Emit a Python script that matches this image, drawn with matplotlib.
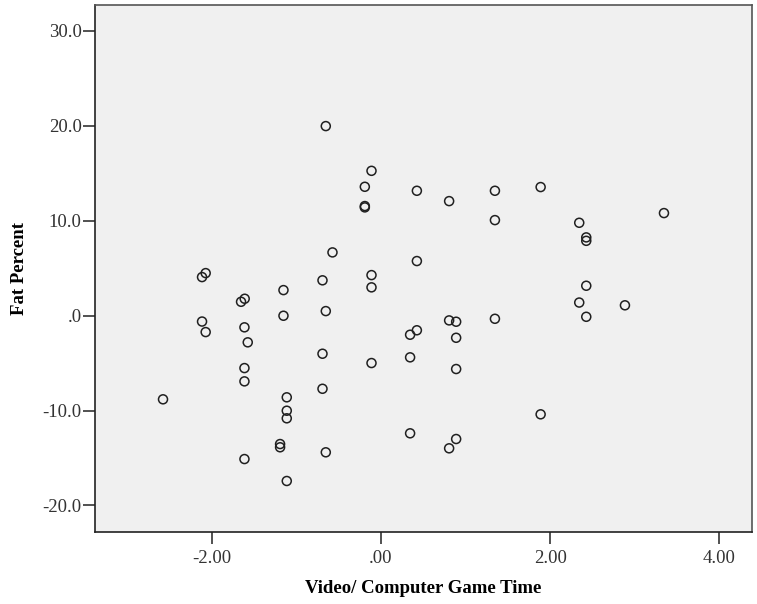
import matplotlib
matplotlib.use("Agg")
import matplotlib.pyplot as plt

# Video/Computer game time (standardised) vs fat percent
game_time = [
    -0.650, -0.110, -0.189, -0.189, -0.189, 0.426, 0.807, 1.348, 1.888, 1.348,
    2.344, 2.427, 2.427, 3.345, -0.571, 0.426, -2.069, -2.112, -0.689, -0.110,
    -0.110, -1.150, -1.608, -1.651, 2.427, 2.344, 2.884, 2.427, -2.112, -2.069,
    -1.150, -0.650, -1.611, -1.572, 1.348, 0.426, 0.346, 0.807, 0.890, 0.890,
    0.346, -0.689, -0.110, -1.611, -1.611, 0.890, -0.689, -2.573, -1.111, -1.111,
    -1.111, 1.888, -1.190, -1.190, -0.650, -1.611, -1.111, 0.346, 0.890, 0.807,
]
fat_percent = [
    19.95, 15.24, 13.56, 11.53, 11.39, 13.14, 12.05, 13.14, 13.53, 10.05,
    9.77, 8.23, 7.87, 10.79, 6.65, 5.74, 4.47, 4.05, 3.71, 4.26,
    2.97, 2.68, 1.77, 1.45, 3.14, 1.37, 1.08, -0.13, -0.63, -1.74,
    -0.02, 0.47, -1.24, -2.82, -0.34, -1.55, -2.02, -0.51, -0.65, -2.34,
    -4.40, -4.02, -5.00, -5.53, -6.93, -5.63, -7.71, -8.82, -8.61, -10.02,
    -10.82, -10.40, -13.53, -13.87, -14.40, -15.11, -17.42, -12.40, -13.00, -13.98,
]

x_ticks = [-2, 0, 2, 4]
x_tick_labels = ["-2.00", ".00", "2.00", "4.00"]
y_ticks = [-20, -10, 0, 10, 20, 30]
y_tick_labels = ["-20.0", "-10.0", ".0", "10.0", "20.0", "30.0"]

plt.rcParams["font.family"] = ["Liberation Serif", "DejaVu Serif"]

fig = plt.figure(figsize=(7.57, 6.04), dpi=100)
ax = fig.add_axes([0.1251, 0.1197, 0.8683, 0.872])
ax.set_facecolor("#f0f0f0")

ax.scatter(game_time, fat_percent, s=42, facecolors="none",
           edgecolors="#202020", linewidths=1.1, zorder=3)

ax.set_xlim(-3.38, 4.385)
ax.set_ylim(-22.76, 32.7)

ax.set_xticks(x_ticks)
ax.set_xticklabels(x_tick_labels)
ax.set_yticks(y_ticks)
ax.set_yticklabels(y_tick_labels)
ax.tick_params(direction="out", length=8.5, width=1.2, color="#333333",
               labelsize=13.5, labelcolor="#333333", pad=1)
ax.tick_params(axis="x", pad=5)

for side in ["top", "right"]:
    ax.spines[side].set_color("#555555")
    ax.spines[side].set_linewidth(1.2)
for side in ["left", "bottom"]:
    ax.spines[side].set_color("#222222")
    ax.spines[side].set_linewidth(1.2)

ax.set_xlabel("Video/ Computer Game Time", fontsize=13.5, fontweight="bold", labelpad=9)
ax.set_ylabel("Fat Percent", fontsize=13.5, fontweight="bold", labelpad=10)

fig.savefig("out.png", dpi=100)
